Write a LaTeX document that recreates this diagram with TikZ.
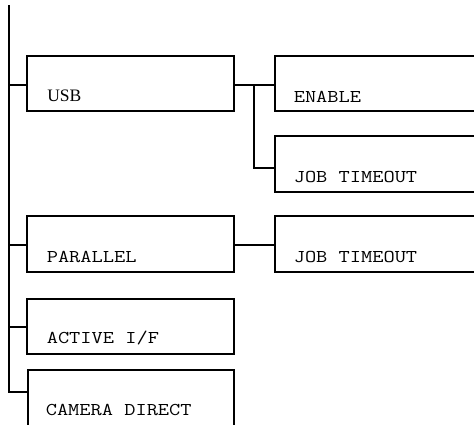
\documentclass[tikz,border=0pt]{standalone}
\usepackage{fontspec}
\newfontfamily\serf{Liberation Serif}
\newcommand{\mtxt}[1]{\scalebox{1.21}[1]{\ttfamily\fontsize{18}{18}\selectfont #1}}
\begin{document}
\begin{tikzpicture}[x=1pt,y=-1pt,line width=1.6pt,
  menubox/.style={draw,rectangle,inner sep=0pt,outer sep=0pt,anchor=north west,minimum height=#1},
  menubox/.default=55pt,
  lbl/.style={anchor=base west,inner sep=0pt},
  slbl/.style={anchor=base west,inner sep=0pt,font=\serf\fontsize{17.5}{17.5}\selectfont}]
\useasboundingbox (0,0) rectangle (474,424);
\clip (0,0) rectangle (474,424);
% boxes
\node[menubox,minimum width=207pt] (usb) at (27,56) {};
\node[menubox=56pt,minimum width=207pt] (par) at (27,216) {};
\node[menubox,minimum width=207pt] (act) at (27,299) {};
\node[menubox=90pt,minimum width=206pt] (cam) at (28,370) {};
\node[menubox,minimum width=230pt] (en) at (275,56) {};
\node[menubox=56pt,minimum width=230pt] (jt1) at (275,136) {};
\node[menubox=56pt,minimum width=230pt] (jt2) at (275,216) {};
% labels
\node[slbl] (usbl) at ([shift={(19.5,-10)}]usb.south west) {USB};
\node[lbl] (parl) at ([shift={(19,-10)}]par.south west) {\mtxt{PARALLEL}};
\node[lbl] (actl) at ([shift={(19,-11)}]act.south west) {\mtxt{ACTIVE I/F}};
\node[lbl] (caml) at ([shift={(17,45)}]cam.north west) {\mtxt{CAMERA DIRECT}};
\node[lbl] (enl) at ([shift={(18,-9)}]en.south west) {\mtxt{ENABLE}};
\node[lbl] (jt1l) at ([shift={(18,-10)}]jt1.south west) {\mtxt{JOB TIMEOUT}};
\node[lbl] (jt2l) at ([shift={(18,-10)}]jt2.south west) {\mtxt{JOB TIMEOUT}};
% trunk and branches
\coordinate (top) at (9,5);
\coordinate (bot) at (9,392);
\coordinate (fork) at (254,0);
\draw (top) -- (bot) -- (bot -| cam.west);
\draw ([yshift=-1.5pt]usb.west) -- ([yshift=-1.5pt]usb.west -| top);
\draw ([yshift=-1pt]par.west) -- ([yshift=-1pt]par.west -| top);
\draw ([yshift=-0.5pt]act.west) -- ([yshift=-0.5pt]act.west -| top);
\draw ([yshift=-1.5pt]usb.east) -- ([yshift=-1.5pt]en.west);
\draw ([yshift=-1.5pt]fork |- usb.east) |- ([yshift=-4pt]jt1.west);
\draw ([yshift=-1pt]par.east) -- ([yshift=-1pt]jt2.west);
\end{tikzpicture}
\end{document}
